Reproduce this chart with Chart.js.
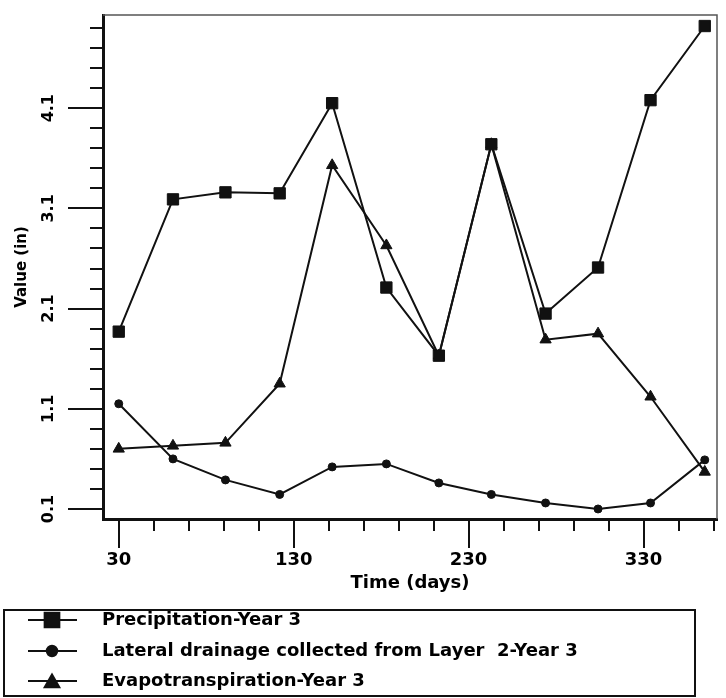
<!DOCTYPE html>
<html>
<head>
<meta charset="utf-8">
<title>Value (in) - Year 3</title>
<script src="https://cdn.jsdelivr.net/npm/chart.js@4"></script>
<style>
  html, body { margin: 0; padding: 0; background: #fff; }
  #wrap { position: relative; width: 726px; height: 698px; }
</style>
</head>
<body>
<div id="wrap"><canvas id="chart" width="726" height="698"></canvas></div>
<script>
// data
const days = [30, 61, 91, 122, 152, 183, 213, 243, 274, 304, 334, 365];
const precipitation = [1.87, 3.19, 3.26, 3.25, 4.15, 2.31, 1.63, 3.74, 2.05, 2.51, 4.18, 4.92];
const lateralDrainage = [1.15, 0.60, 0.39, 0.245, 0.52, 0.55, 0.36, 0.245, 0.16, 0.10, 0.16, 0.59];
const evapotranspiration = [0.70, 0.73, 0.76, 1.35, 3.53, 2.73, 1.63, 3.74, 1.79, 1.85, 1.22, 0.47];
const seriesLabels = [
  'Precipitation-Year 3',
  'Lateral drainage collected from Layer  2-Year 3',
  'Evapotranspiration-Year 3'
];

// axis ticks
const xTicks = [30, 50, 70, 90, 110, 130, 150, 170, 190, 210, 230, 250, 270, 290, 310, 330, 350, 370];
const xTickLabels = [30, 130, 230, 330];
const yTicks = [0.1, 0.3, 0.5, 0.7, 0.9, 1.1, 1.3, 1.5, 1.7, 1.9, 2.1, 2.3, 2.5, 2.7, 2.9,
  3.1, 3.3, 3.5, 3.7, 3.9, 4.1, 4.3, 4.5, 4.7, 4.9];
const yTickLabels = [0.1, 1.1, 2.1, 3.1, 4.1];

const FONT = "'DejaVu Sans', 'Liberation Sans', sans-serif";
const INK = '#111';

const isLabel = (list, v) => list.some(l => Math.abs(l - v) < 1e-6);
const toPoints = vals => days.map((d, i) => ({ x: d, y: vals[i] }));

// major / minor tick marks outside the axes, plus the thin top/right frame
const tickMarks = {
  id: 'tickMarks',
  afterDraw(chart) {
    const { ctx, chartArea: a, scales: { x, y } } = chart;
    ctx.save();
    ctx.strokeStyle = INK;
    ctx.lineWidth = 2;
    ctx.beginPath();
    x.ticks.forEach(t => {
      const px = Math.round(x.getPixelForValue(t.value));
      const len = isLabel(xTickLabels, t.value) ? 29 : 12;
      ctx.moveTo(px, a.bottom);
      ctx.lineTo(px, a.bottom + len);
    });
    y.ticks.forEach(t => {
      const py = Math.round(y.getPixelForValue(t.value));
      const len = isLabel(yTickLabels, t.value) ? 35 : 13;
      ctx.moveTo(a.left, py);
      ctx.lineTo(a.left - len, py);
    });
    ctx.stroke();

    ctx.strokeStyle = '#555';
    ctx.lineWidth = 1.5;
    ctx.beginPath();
    ctx.moveTo(a.left, a.top);
    ctx.lineTo(a.right, a.top);
    ctx.lineTo(a.right, a.bottom);
    ctx.stroke();
    ctx.restore();
  }
};

// boxed legend under the plot: line + marker, then the label
const boxLegend = {
  id: 'boxLegend',
  afterDraw(chart) {
    const ctx = chart.ctx;
    const box = { left: 4, top: 610, right: 695, bottom: 696 };
    const rows = [620, 651, 681];
    ctx.save();
    ctx.strokeStyle = INK;
    ctx.lineWidth = 2;
    ctx.strokeRect(box.left, box.top, box.right - box.left, box.bottom - box.top);

    chart.data.datasets.forEach((ds, i) => {
      const yy = rows[i];
      ctx.strokeStyle = INK;
      ctx.lineWidth = 2;
      ctx.beginPath();
      ctx.moveTo(28, yy);
      ctx.lineTo(77, yy);
      ctx.stroke();
      ctx.fillStyle = INK;
      Chart.helpers.drawPoint(ctx, {
        pointStyle: ds.pointStyle, radius: ds.pointRadius * 1.3, rotation: 0, borderWidth: 1
      }, 52, yy + (ds.pointStyle === 'triangle' ? 2 : 0));
      ctx.fillStyle = '#000';
      ctx.font = 'bold 18px ' + FONT;
      ctx.textBaseline = 'middle';
      ctx.textAlign = 'left';
      ctx.fillText(ds.label, 102, yy);
    });
    ctx.restore();
  }
};

const lineStyle = {
  borderColor: INK,
  backgroundColor: INK,
  pointBorderColor: INK,
  pointBackgroundColor: INK,
  borderWidth: 2,
  pointBorderWidth: 1,
  tension: 0,
  clip: false
};

new Chart(document.getElementById('chart'), {
  type: 'line',
  data: {
    datasets: [
      Object.assign({ label: seriesLabels[0], data: toPoints(precipitation), pointStyle: 'rect', pointRadius: 8 }, lineStyle),
      Object.assign({ label: seriesLabels[1], data: toPoints(lateralDrainage), pointStyle: 'circle', pointRadius: 4 }, lineStyle),
      Object.assign({ label: seriesLabels[2], data: toPoints(evapotranspiration), pointStyle: 'triangle', pointRadius: 6.5 }, lineStyle)
    ]
  },
  options: {
    responsive: false,
    animation: false,
    events: [],
    layout: { padding: { top: 15, right: 6, bottom: 99, left: 0 } },
    plugins: {
      legend: { display: false },
      tooltip: { enabled: false }
    },
    scales: {
      x: {
        type: 'linear',
        min: 21,
        max: 372,
        afterBuildTicks: s => { s.ticks = xTicks.map(v => ({ value: v })); },
        afterFit: s => { s.height = 80; },
        // invisible tick marks only reserve room for the labels
        grid: { drawOnChartArea: false, drawTicks: true, tickLength: 31, tickColor: 'rgba(0,0,0,0)' },
        border: { display: true, color: INK, width: 3 },
        ticks: {
          autoSkip: false,
          maxRotation: 0,
          padding: 0,
          color: '#000',
          font: { family: FONT, size: 18, weight: 'bold' },
          callback: v => isLabel(xTickLabels, v) ? String(v) : ''
        },
        title: {
          display: true,
          text: 'Time (days)',
          color: '#000',
          font: { family: FONT, size: 18, weight: 'bold' },
          padding: { top: 0, bottom: 5 }
        }
      },
      y: {
        type: 'linear',
        min: 0,
        max: 5.03,
        afterBuildTicks: s => { s.ticks = yTicks.map(v => ({ value: v })); },
        afterFit: s => { s.width = 103; },
        grid: { drawOnChartArea: false, drawTicks: true, tickLength: 40, tickColor: 'rgba(0,0,0,0)' },
        border: { display: true, color: INK, width: 3 },
        ticks: {
          autoSkip: false,
          minRotation: 90,
          maxRotation: 90,
          crossAlign: 'center',
          padding: 0,
          color: '#000',
          font: { family: FONT, size: 16, weight: 'bold' },
          callback: v => isLabel(yTickLabels, v) ? v.toFixed(1) : ''
        },
        title: {
          display: true,
          text: 'Value (in)',
          color: '#000',
          font: { family: FONT, size: 15, weight: 'bold' },
          padding: { top: 13, bottom: 0 }
        }
      }
    }
  },
  plugins: [tickMarks, boxLegend]
});
</script>
</body>
</html>
